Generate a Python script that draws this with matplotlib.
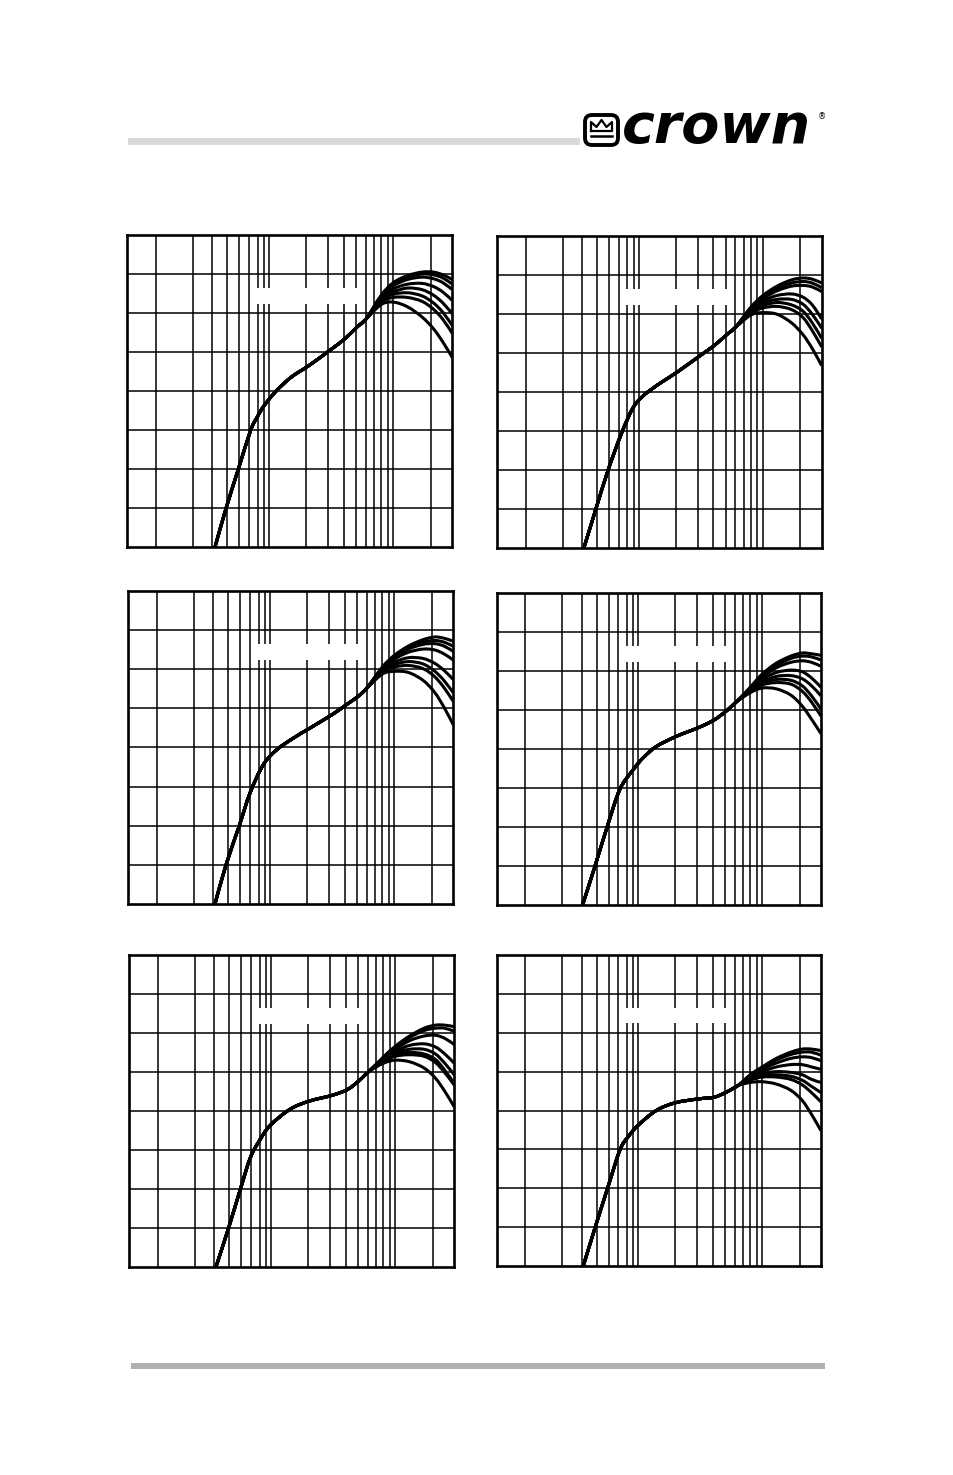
import matplotlib
matplotlib.use("Agg")
import numpy as np
import matplotlib.pyplot as plt
from matplotlib.patches import Rectangle, FancyBboxPatch, PathPatch
from matplotlib.path import Path
from matplotlib.ticker import NullLocator

W, H = 954, 1475

# vertical grid positions (log axis) and the common high-frequency points
grid_f = [1.23, 2.43, 3.5, 4.62, 5.77, 6.9, 8.11, 9.17, 10, 20, 30, 40, 50, 60, 70, 80, 90, 100, 200]
hi_f = [80, 100, 130, 170, 210, 250, 298]

# panel 1
p1_f = [3.67, 4.51, 5.66, 7.12, 8.05, 8.99, 10.8, 13.0, 15.7, 20.8, 31.3, 41.3, 51.3, 60]
p1_y = [0, 5, 10, 15, 16.7, 18.0, 19.6, 20.9, 22.0, 23.25, 25.3, 26.8, 28.25, 29.2]
p1_hi = [
    [32.3, 33.9, 34.8, 35.25, 35.25, 34.9, 34.3],
    [32.2, 33.7, 34.6, 35.0, 34.9, 34.5, 33.7],
    [32.1, 33.5, 34.3, 34.6, 34.4, 33.9, 33.0],
    [31.9, 33.1, 33.7, 33.8, 33.4, 32.7, 31.6],
    [31.7, 32.7, 33.2, 33.0, 32.3, 31.3, 29.9],
    [31.6, 32.4, 32.6, 32.2, 31.3, 30.1, 28.4],
    [31.4, 32.0, 32.0, 31.5, 30.5, 29.2, 27.4],
    [31.1, 31.4, 30.8, 29.5, 28.0, 26.3, 24.3],
]

# panel 2
p2_f = [3.61, 4.51, 5.66, 7.25, 8.99, 10.8, 13.0, 15.7, 20.5, 31.3, 41.4, 51.3, 60]
p2_y = [0, 5, 10, 14.7, 18.0, 19.5, 20.5, 21.4, 22.6, 24.7, 26.1, 27.4, 28.3]
p2_hi = [
    [30.9, 32.4, 33.6, 34.4, 34.65, 34.5, 34.0],
    [30.8, 32.2, 33.3, 34.0, 34.2, 34.0, 33.4],
    [30.7, 32.0, 33.0, 33.6, 33.7, 33.5, 32.9],
    [30.6, 31.7, 32.4, 32.6, 32.2, 31.2, 29.4],
    [30.4, 31.4, 31.9, 31.9, 31.3, 30.0, 28.2],
    [30.3, 31.1, 31.5, 31.2, 30.4, 28.9, 26.9],
    [30.1, 30.8, 31.0, 30.6, 29.6, 27.9, 25.8],
    [29.9, 30.2, 30.0, 28.9, 27.4, 25.6, 23.4],
]

# panel 3
p3_f = [3.61, 4.43, 5.66, 6.91, 8.83, 11.3, 15.4, 20.5, 31.5, 41.3, 51.6, 60]
p3_y = [0, 5, 10, 14.2, 17.8, 19.7, 21.2, 22.4, 24.2, 25.5, 26.6, 27.6]
p3_hi = [
    [30.3, 31.8, 33.0, 33.8, 34.15, 34.0, 33.6],
    [30.2, 31.6, 32.8, 33.5, 33.7, 33.5, 32.95],
    [30.1, 31.5, 32.6, 33.2, 33.3, 33.0, 32.3],
    [30.0, 31.3, 32.2, 32.6, 32.5, 32.0, 31.2],
    [29.8, 30.9, 31.5, 31.4, 30.8, 29.9, 28.7],
    [29.7, 30.6, 31.0, 30.7, 29.8, 28.6, 27.0],
    [29.6, 30.3, 30.5, 30.1, 29.1, 27.7, 25.9],
    [29.4, 29.75, 29.6, 28.6, 27.1, 25.2, 22.9],
]

# panel 4
p4_f = [3.57, 4.48, 5.63, 7.12, 9.1, 10.9, 14.0, 20.3, 30.9, 40.9, 51.3, 61.7]
p4_y = [0, 4.9, 10, 14.8, 17.3, 18.8, 20.3, 21.6, 22.75, 23.7, 24.85, 26.0]
p4_hi = [
    [27.9, 29.6, 31.0, 31.9, 32.3, 32.2, 32.0],
    [27.8, 29.4, 30.7, 31.6, 31.9, 31.8, 31.4],
    [27.7, 29.2, 30.4, 31.1, 31.3, 31.1, 30.6],
    [27.6, 28.9, 29.8, 30.1, 29.9, 29.1, 27.9],
    [27.5, 28.6, 29.3, 29.4, 29.0, 28.1, 26.8],
    [27.4, 28.4, 28.9, 28.8, 28.1, 26.8, 25.1],
    [27.3, 28.2, 28.5, 28.3, 27.4, 26.0, 24.2],
    [27.2, 27.8, 27.7, 26.9, 25.5, 23.8, 21.95],
]

# panel 5
p5_f = [3.61, 4.54, 5.63, 6.78, 7.94, 9.8, 14.2, 20.3, 31.1, 41.3, 51.3, 60.6]
p5_y = [0, 4.9, 9.8, 13.9, 16.0, 18.1, 20.2, 21.25, 22.0, 22.75, 23.9, 25.0]
p5_hi = [
    [26.9, 28.3, 29.6, 30.6, 31.0, 31.0, 30.8],
    [26.8, 28.2, 29.4, 30.3, 30.6, 30.6, 30.2],
    [26.7, 27.9, 29.0, 29.6, 29.7, 29.3, 28.5],
    [26.6, 27.6, 28.4, 28.6, 28.2, 27.3, 26.1],
    [26.5, 27.4, 27.9, 27.9, 27.3, 26.1, 24.6],
    [26.4, 27.2, 27.5, 27.3, 26.6, 25.2, 23.5],
    [26.3, 27.0, 27.2, 27.0, 26.2, 24.9, 23.3],
    [26.1, 26.5, 26.3, 25.5, 24.2, 22.5, 20.5],
]

# panel 6
p6_f = [3.61, 4.48, 5.63, 7.12, 8.29, 10.0, 14.0, 20.0, 30.9, 40.9, 51.3, 63.7]
p6_y = [0, 4.85, 9.85, 14.9, 16.6, 18.1, 20.0, 21.0, 21.5, 21.7, 22.35, 23.2]
p6_hi = [
    [24.6, 25.6, 26.7, 27.5, 27.9, 27.9, 27.7],
    [24.5, 25.5, 26.5, 27.2, 27.5, 27.5, 27.1],
    [24.4, 25.3, 26.1, 26.7, 26.9, 26.8, 26.4],
    [24.3, 25.0, 25.6, 25.9, 25.9, 25.6, 25.3],
    [24.1, 24.7, 25.0, 24.9, 24.6, 24.0, 23.6],
    [24.0, 24.5, 24.6, 24.4, 23.9, 23.1, 22.3],
    [23.9, 24.3, 24.3, 24.0, 23.3, 22.3, 21.1],
    [23.6, 23.7, 23.4, 22.6, 21.3, 19.5, 17.4],
]

panels = [
    (p1_f, p1_y, p1_hi, (127.3, 235.0, 452.3, 547.3)),
    (p2_f, p2_y, p2_hi, (497.3, 236.3, 821.7, 548.0)),
    (p3_f, p3_y, p3_hi, (128.3, 591.3, 453.3, 903.7)),
    (p4_f, p4_y, p4_hi, (496.7, 593.0, 821.0, 904.7)),
    (p5_f, p5_y, p5_hi, (129.3, 955.0, 454.3, 1266.7)),
    (p6_f, p6_y, p6_hi, (496.7, 955.0, 821.0, 1266.0)),
]


def smooth_path(fs, ys):
    # bezier path through the read points (catmull-rom handles, in log-f space)
    lx = np.log10(fs)
    y = np.asarray(ys, float)
    n = len(lx)
    verts = [(fs[0], y[0])]
    codes = [Path.MOVETO]
    for i in range(n - 1):
        i0, i3 = max(i - 1, 0), min(i + 2, n - 1)
        c1 = (lx[i] + (lx[i + 1] - lx[i0]) / 6, y[i] + (y[i + 1] - y[i0]) / 6)
        c2 = (lx[i + 1] - (lx[i3] - lx[i]) / 6, y[i + 1] - (y[i3] - y[i]) / 6)
        verts += [(10 ** c1[0], c1[1]), (10 ** c2[0], c2[1]), (fs[i + 1], y[i + 1])]
        codes += [Path.CURVE4] * 3
    return Path(verts, codes)


fig = plt.figure(figsize=(W / 100, H / 100), dpi=100)
fig.patch.set_facecolor("white")

for low_f, low_y, hi, (l, t, r, b) in panels:
    ax = fig.add_axes([l / W, 1 - b / H, (r - l) / W, (b - t) / H])
    ax.set_xscale("log")
    ax.set_xlim(0.724, 298)
    ax.set_ylim(0, 40)
    ax.set_xticks(grid_f)
    ax.set_yticks(range(5, 40, 5))
    ax.xaxis.set_minor_locator(NullLocator())
    ax.tick_params(length=0, labelbottom=False, labelleft=False)
    ax.set_axisbelow(True)
    ax.grid(True, color="black", lw=1.1)
    for s in ax.spines.values():
        s.set_linewidth(1.9)
    # blank strip where the label used to sit
    ax.add_patch(Rectangle((0.385, 0.78), 0.337, 0.05, transform=ax.transAxes,
                           facecolor="white", edgecolor="none", zorder=1.5))
    for row in hi:
        ax.add_patch(PathPatch(smooth_path(low_f + hi_f, low_y + row), fill=False,
                               edgecolor="black", lw=2.2, zorder=3))

# header / footer bars
fig.add_artist(Rectangle((128 / W, 1 - 145 / H), (580 - 128) / W, 7 / H,
                         transform=fig.transFigure, facecolor="#d9d9d9", edgecolor="none"))
fig.add_artist(Rectangle((131 / W, 1 - 1369 / H), (825 - 131) / W, 6 / H,
                         transform=fig.transFigure, facecolor="#b0b0b0", edgecolor="none"))

# logo
lg = fig.add_axes([575 / W, 1 - 155 / H, 255 / W, 50 / H])
lg.set_xlim(575, 830)
lg.set_ylim(155, 105)
lg.axis("off")
lg.add_patch(FancyBboxPatch((585, 115), 33, 30, boxstyle="round,pad=0,rounding_size=7",
                            facecolor="white", edgecolor="black", lw=2.8))
lg.plot([591, 591, 596.5, 601.5, 606.5, 612, 612, 591],
        [131, 122, 127, 120, 127, 122, 131, 131], color="black", lw=1.6)
lg.plot([591, 612], [135.5, 135.5], color="black", lw=1.8)
lg.text(622, 143, "crown", fontsize=40, fontweight="heavy", fontstyle="italic",
        family="DejaVu Sans", va="baseline", ha="left", color="black")
lg.text(822, 117, "®", fontsize=6, va="center", ha="center", color="black")

fig.savefig("out.png", dpi=100, facecolor="white")
